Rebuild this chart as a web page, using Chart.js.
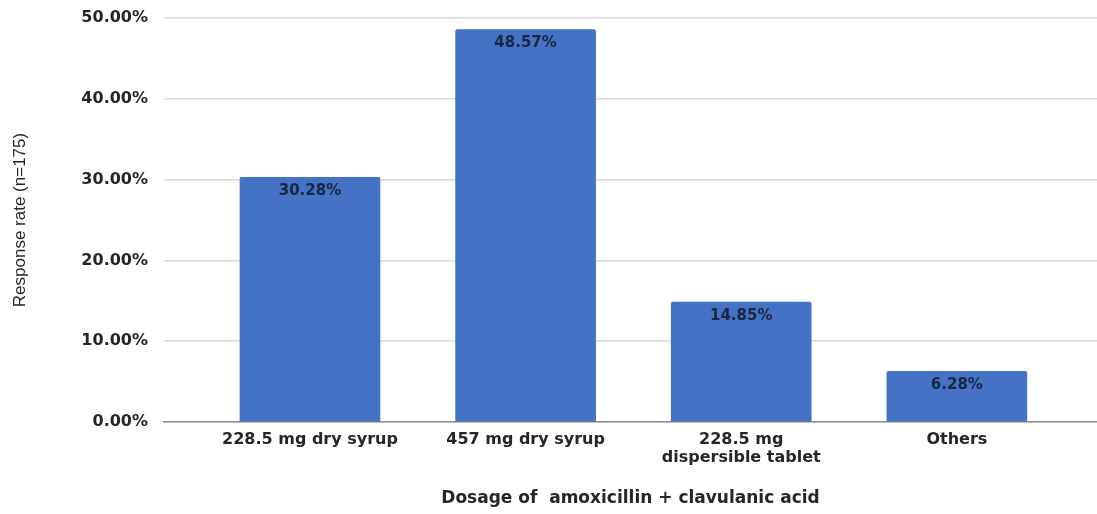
<!DOCTYPE html>
<html>
<head>
<meta charset="utf-8">
<script src="https://cdn.jsdelivr.net/npm/chart.js@4.4.1/dist/chart.umd.min.js"></script>
<style>
html,body{margin:0;padding:0;background:#fff;}
#wrap{width:1097px;height:514px;position:relative;}
</style>
</head>
<body>
<div id="wrap"><canvas id="c" width="1097" height="514"></canvas></div>
<script>
const categories = ["228.5 mg dry syrup", "457 mg dry syrup", "228.5 mg\ndispersible tablet", "Others"];
const responseRates = [30.28, 48.57, 14.85, 6.28];
const valueLabels = ["30.28%", "48.57%", "14.85%", "6.28%"];
const yTicks = [0, 10, 20, 30, 40, 50];

const barLabelPlugin = {
  id: 'barLabels',
  afterDatasetsDraw(chart) {
    const ctx = chart.ctx;
    const meta = chart.getDatasetMeta(0);
    ctx.save();
    ctx.font = 'bold 15px "DejaVu Sans"';
    ctx.fillStyle = '#1a2642';
    ctx.textAlign = 'center';
    ctx.textBaseline = 'middle';
    meta.data.forEach((bar, i) => {
      ctx.fillText(valueLabels[i], bar.x, bar.y + 14);
    });
    ctx.restore();
  }
};

new Chart(document.getElementById('c'), {
  type: 'bar',
  data: {
    datasets: [{
      data: responseRates.map((v, i) => ({x: i, y: v})),
      backgroundColor: '#4472c4',
      borderWidth: 0,
      borderRadius: 2,
      borderSkipped: 'bottom',
      barThickness: 140
    }]
  },
  options: {
    responsive: false,
    animation: false,
    layout: {padding: {top: 18, right: 0, left: 0, bottom: 0}},
    plugins: {legend: {display: false}, tooltip: {enabled: false}},
    scales: {
      x: {
        type: 'linear',
        offset: false,
        min: -0.677,
        max: 3.65,
        afterBuildTicks(scale) { scale.ticks = categories.map((_, i) => ({value: i})); },
        afterFit(scale) { scale.height = 92; scale.paddingLeft = 0; scale.paddingRight = 0; },
        grid: {display: false, drawTicks: false, offset: false},
        border: {display: true, color: '#8c8c8c', width: 1.5},
        ticks: {
          autoSkip: false,
          maxRotation: 0,
          padding: 9,
          color: '#262626',
          font: {family: '"DejaVu Sans"', size: 16, weight: 'bold', lineHeight: 1.125},
          callback: (v) => categories[v] !== undefined ? categories[v].split('\n') : ''
        },
        title: {
          display: true,
          text: 'Dosage of  amoxicillin + clavulanic acid',
          color: '#262626',
          font: {family: '"DejaVu Sans"', size: 17, weight: 'bold'},
          padding: {top: 17, bottom: 5}
        }
      },
      y: {
        min: 0,
        max: 50,
        afterBuildTicks(scale) { scale.ticks = yTicks.map(v => ({value: v})); },
        afterFit(scale) { scale.width = 164; scale.paddingTop = 0; scale.paddingBottom = 0; },
        grid: {color: '#d9d9d9', lineWidth: 1.5, drawTicks: false},
        border: {display: false},
        ticks: {
          padding: 16,
          color: '#262626',
          font: {family: '"DejaVu Sans"', size: 16, weight: 'bold'},
          callback: (v) => v.toFixed(2) + '%'
        },
        title: {
          display: true,
          text: 'Response rate (n=175)',
          color: '#262626',
          font: {family: '"Liberation Sans Narrow", "Liberation Sans"', size: 17},
          padding: {top: 10, bottom: 0}
        }
      }
    }
  },
  plugins: [barLabelPlugin]
});
</script>
</body>
</html>
